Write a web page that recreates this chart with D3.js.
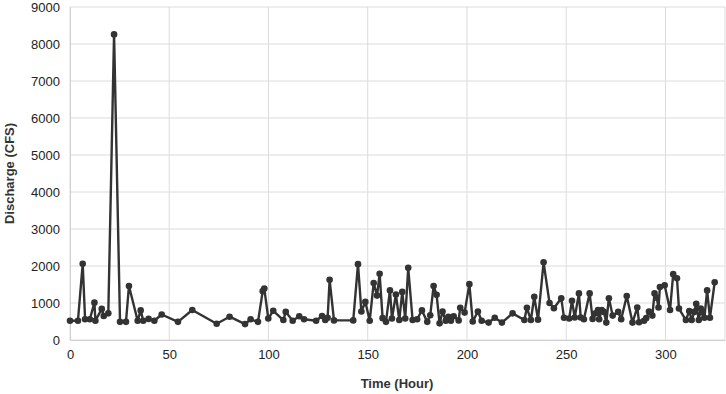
<!DOCTYPE html>
<html>
<head>
<meta charset="utf-8">
<script src="https://cdn.jsdelivr.net/npm/d3@7"></script>
<style>
  html, body { margin: 0; padding: 0; background: #fff; }
  svg { display: block; font-family: "Liberation Sans", Arial, sans-serif; }
</style>
</head>
<body>
<svg id="chart" width="726" height="394"></svg>
<script>
const hours = [0,4,6.4,7.6,10,12.3,12.8,16,17,19.3,22.2,25.2,28.2,29.7,34.1,35.6,36.9,39.6,42.5,46.2,54.4,61.6,73.9,80.4,88.2,91,94.7,97.1,97.9,99.9,102.4,107.5,108.7,112.2,115.5,117.9,124,127,128.6,129.8,130.8,133,142.7,145.1,146.8,148.8,151,153,154.7,156,157.5,159.2,161.2,162.2,164.2,165.9,167.4,168.9,170.4,172.6,174.9,177.3,180,181.5,183.2,184.7,186.2,187.7,189.3,190.6,191.9,193.3,195.8,196.6,198.8,201.2,202.9,205.5,207.4,210.9,214,217.6,223,228.9,230.2,232.2,233.9,235.8,238.6,241.6,243.8,247.5,248.9,251.5,252.9,254.3,256.4,257.3,258.9,261.8,263.3,264.8,266,266.6,267.9,269,270.2,271.5,273.4,276.2,277.7,280.5,283.4,285.8,286.7,289.2,290.3,291.7,293.4,294.5,295.6,296.5,297.2,299.6,302.3,303.9,305.8,306.8,310.3,312,313.2,314.5,315.5,316.8,317.8,318.8,319.6,321,322.4,324.8];
const discharge = [520,520,2060,560,560,1010,520,840,650,720,8260,490,490,1460,520,800,520,570,520,690,490,810,440,630,430,560,490,1320,1390,580,790,540,760,520,640,560,520,650,540,600,1630,530,530,2050,770,1030,520,1540,1200,1790,590,490,1340,580,1230,540,1300,580,1950,540,560,800,490,670,1460,1220,450,770,520,630,520,640,530,870,740,1510,500,770,520,470,600,470,720,540,870,540,1170,550,2100,1000,860,1130,600,580,1060,610,1260,610,560,1260,570,720,810,560,810,760,470,1130,660,760,560,1190,470,880,480,520,590,770,660,1260,1140,880,1430,1480,810,1780,1670,850,540,780,540,760,980,540,850,740,600,1340,600,1560];
const xTicks = [0,50,100,150,200,250,300];
const yTicks = [0,1000,2000,3000,4000,5000,6000,7000,8000,9000];

const data = hours.map((h, i) => ({h, v: discharge[i]})).filter(d => d.v !== undefined);

const svg = d3.select("#chart");
const mL = 70, mR = 725, mT = 7, mB = 340;

const x = d3.scaleLinear().domain([0, 330]).range([mL, mR]);
const y = d3.scaleLinear().domain([0, 9000]).range([mB, mT]);

// grid
const grid = svg.append("g");
grid.selectAll("line.h").data(yTicks).join("line")
  .attr("x1", mL).attr("x2", mR)
  .attr("y1", d => y(d)).attr("y2", d => y(d))
  .attr("stroke", "#dcdcdc").attr("stroke-width", 1);
grid.selectAll("line.v").data(xTicks).join("line")
  .attr("y1", mT).attr("y2", mB)
  .attr("x1", d => x(d)).attr("x2", d => x(d))
  .attr("stroke", "#dcdcdc").attr("stroke-width", 1);
grid.append("line").attr("x1", mR).attr("x2", mR).attr("y1", mT).attr("y2", mB)
  .attr("stroke", "#dcdcdc");

// axes
const xAxis = svg.append("g").attr("transform", `translate(0,${mB})`)
  .call(d3.axisBottom(x).tickValues(xTicks).tickFormat(d3.format("d")).tickSize(0).tickPadding(10));
xAxis.select(".domain").attr("stroke", "#cfcfcf");
xAxis.selectAll("text").attr("font-size", 13).attr("fill", "#222")
  .attr("font-family", "Liberation Sans, Arial, sans-serif");

const yAxis = svg.append("g").attr("transform", `translate(${mL},0)`)
  .call(d3.axisLeft(y).tickValues(yTicks).tickFormat(d3.format("d")).tickSize(0).tickPadding(10));
yAxis.select(".domain").attr("stroke", "#cfcfcf");
yAxis.selectAll("text").attr("font-size", 13).attr("fill", "#222")
  .attr("font-family", "Liberation Sans, Arial, sans-serif");

// line
svg.append("path").datum(data)
  .attr("fill", "none").attr("stroke", "#333").attr("stroke-width", 2.4)
  .attr("stroke-linejoin", "round")
  .attr("d", d3.line().x(d => x(d.h)).y(d => y(d.v)));

svg.append("g").selectAll("circle").data(data).join("circle")
  .attr("cx", d => x(d.h)).attr("cy", d => y(d.v)).attr("r", 3.3)
  .attr("fill", "#333");

// titles
svg.append("text").attr("x", 397).attr("y", 388).attr("text-anchor", "middle")
  .attr("font-size", 13).attr("font-weight", "bold").attr("fill", "#333")
  .text("Time (Hour)");
svg.append("text").attr("transform", `translate(14,${(mT+mB)/2}) rotate(-90)`)
  .attr("text-anchor", "middle")
  .attr("font-size", 13).attr("font-weight", "bold").attr("fill", "#333")
  .text("Discharge (CFS)");
</script>
</body>
</html>
